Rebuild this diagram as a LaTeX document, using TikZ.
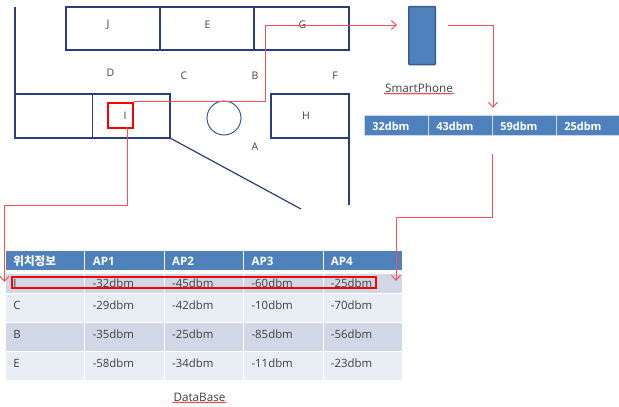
\documentclass[tikz,border=0pt]{standalone}
\usepackage{fontspec}
\setmainfont{Open Sans}
\newfontfamily\cjk{Noto Sans CJK KR}
\usetikzlibrary{arrows.meta, positioning, calc, decorations.pathmorphing}
\definecolor{wallblue}{RGB}{42, 62, 125}
\definecolor{darkblue}{RGB}{56, 93, 138}
\definecolor{midblue}{RGB}{79, 129, 189}
\definecolor{rowdark}{RGB}{208, 216, 232}
\definecolor{rowlight}{RGB}{233, 237, 244}
\definecolor{linered}{RGB}{250, 80, 85}
\definecolor{labelgray}{RGB}{64, 64, 64}
\tikzset{
  wall/.style={wallblue, line width=1.2pt},
  roomlabel/.style={text=labelgray, font=\fontsize{10.5}{11}\selectfont, inner sep=0pt},
  redline/.style={linered, line width=1pt},
  redarrow/.style={redline, -{Straight Barb[length=5pt, width=9pt]}},
  redmark/.style={draw=red, line width=2pt, inner sep=0pt},
  squiggle/.style={red, line width=0.5pt, decorate, decoration={snake, amplitude=0.5pt, segment length=2.5pt}},
  caption/.style={text=labelgray, font=\fontsize{11.7}{13}\selectfont, inner sep=1pt},
  cell/.style={anchor=north west, draw=white, line width=0.7pt, inner ysep=0pt, inner xsep=8pt, text width=63.4pt, align=left, text=labelgray, font=\fontsize{11.4}{12}\selectfont},
  headcell/.style={cell, fill=midblue, text=white, font=\bfseries\fontsize{11.6}{12}\selectfont, text height=15pt, text depth=5pt},
  firstcell/.style={cell, fill=rowdark, text height=14pt, text depth=6pt},
  darkcell/.style={cell, fill=rowdark, text height=16pt, text depth=13pt},
  lightcell/.style={cell, fill=rowlight, text height=16pt, text depth=13pt},
  signalcell/.style={anchor=north west, fill=midblue, draw=rowdark, line width=0.5pt, inner ysep=0pt, inner xsep=8pt, text width=47.75pt, align=left, text=white, font=\bfseries\fontsize{11}{12}\selectfont, text height=15.7pt, text depth=4.3pt},
}
\begin{document}
\begin{tikzpicture}[x=1pt, y=-1pt]
  \useasboundingbox (0,0) rectangle (619,407);

  % Top rooms (J, E, G)
  \draw[wall] (66,7) rectangle (349,50);
  \draw[wall] (160,7) -- (160,50);
  \draw[wall] (254,7) -- (254,50);
  \node[roomlabel] (labelJ) at (108,25) {J};
  \node[roomlabel] (labelE) at (207.5,25) {E};
  \node[roomlabel] (labelG) at (302.5,25) {G};

  % Left wall and lower rooms
  \draw[wall] (15,7) -- (15,94);
  \draw[wall] (15,94) rectangle (170,138);
  \draw[wall] (92.5,94) -- (92.5,138);
  \draw[wall] (170,138) -- (301,209);

  % Room H and right wall
  \draw[wall] (271,94) rectangle (349,138);
  \draw[wall] (349,138) -- (349,205);
  \node[roomlabel] (labelH) at (306,116) {H};

  % Pillar
  \draw[darkblue, line width=1pt] (224,118) circle (17);

  % Corridor labels
  \node[roomlabel] (labelD) at (110.5,73) {D};
  \node[roomlabel] (labelC) at (184,76) {C};
  \node[roomlabel] (labelB) at (255,76) {B};
  \node[roomlabel] (labelF) at (335,76) {F};
  \node[roomlabel] (labelA) at (255,147) {A};

  % Marked position I
  \node[roomlabel] (labelI) at (125,116) {I};
  \node[redmark, minimum width=25pt, minimum height=25pt] (markI) at (120,115) {};

  % SmartPhone
  \node[fill=midblue, draw=darkblue, line width=1.5pt, rounded corners=0.8pt, minimum width=26.5pt, minimum height=58pt, inner sep=0pt] (phone) at (422,35.5) {};
  \node[caption] (phoneName) at (419,88) {SmartPhone};
  \draw[squiggle] (phoneName.south west) -- (phoneName.south east);

  % Measured signal strip
  \node[signalcell] (signalA) at (364,115) {32dbm};
  \node[signalcell] (signalB) at (428,115) {43dbm};
  \node[signalcell] (signalC) at (492,115) {59dbm};
  \node[signalcell] (signalD) at (556,115) {25dbm};

  % Database table
  \node[headcell] (head0) at (5,250) {{\cjk 위치정보}};
  \node[headcell] (head1) at (84.4,250) {AP1};
  \node[headcell] (head2) at (163.8,250) {AP2};
  \node[headcell] (head3) at (243.2,250) {AP3};
  \node[headcell] (head4) at (322.6,250) {AP4};

  \node[firstcell] (rowI0) at (5,273) {I};
  \node[firstcell] (rowI1) at (84.4,273) {-32dbm};
  \node[firstcell] (rowI2) at (163.8,273) {-45dbm};
  \node[firstcell] (rowI3) at (243.2,273) {-60dbm};
  \node[firstcell] (rowI4) at (322.6,273) {-25dbm};

  \node[lightcell] (rowC0) at (5,293) {C};
  \node[lightcell] (rowC1) at (84.4,293) {-29dbm};
  \node[lightcell] (rowC2) at (163.8,293) {-42dbm};
  \node[lightcell] (rowC3) at (243.2,293) {-10dbm};
  \node[lightcell] (rowC4) at (322.6,293) {-70dbm};

  \node[darkcell] (rowB0) at (5,322) {B};
  \node[darkcell] (rowB1) at (84.4,322) {-35dbm};
  \node[darkcell] (rowB2) at (163.8,322) {-25dbm};
  \node[darkcell] (rowB3) at (243.2,322) {-85dbm};
  \node[darkcell] (rowB4) at (322.6,322) {-56dbm};

  \node[lightcell] (rowE0) at (5,351) {E};
  \node[lightcell] (rowE1) at (84.4,351) {-58dbm};
  \node[lightcell] (rowE2) at (163.8,351) {-34dbm};
  \node[lightcell] (rowE3) at (243.2,351) {-11dbm};
  \node[lightcell] (rowE4) at (322.6,351) {-23dbm};

  \node[caption] (dbName) at (199.5,397) {DataBase};
  \draw[squiggle] (dbName.south west) -- (dbName.south east);

  % Highlighted row
  \node[redmark, minimum width=364pt, minimum height=11.5pt] (markRow) at (194,282.5) {};

  % Red connectors
  \coordinate (phoneIn) at (397,25);
  \coordinate (phoneBend) at (265,25);
  \coordinate (phoneOut) at (448,25);
  \coordinate (stripIn) at (493,108);
  \coordinate (stripOut) at (492.5,154);
  \coordinate (stripBend) at (492.5,217.5);
  \coordinate (tableInB) at (396,281);
  \coordinate (markOut) at (127,127);
  \coordinate (markBend) at (127,205);
  \coordinate (tableInA) at (4.5,282);

  \draw[redarrow] (markI.north east) -| (phoneBend) -- (phoneIn);
  \draw[redarrow] (phoneOut) -| (stripIn);
  \draw[redarrow] (stripOut) -- (stripBend) -| (tableInB);
  \draw[redarrow] (markOut) -- (markBend) -| (tableInA);
\end{tikzpicture}
\end{document}
